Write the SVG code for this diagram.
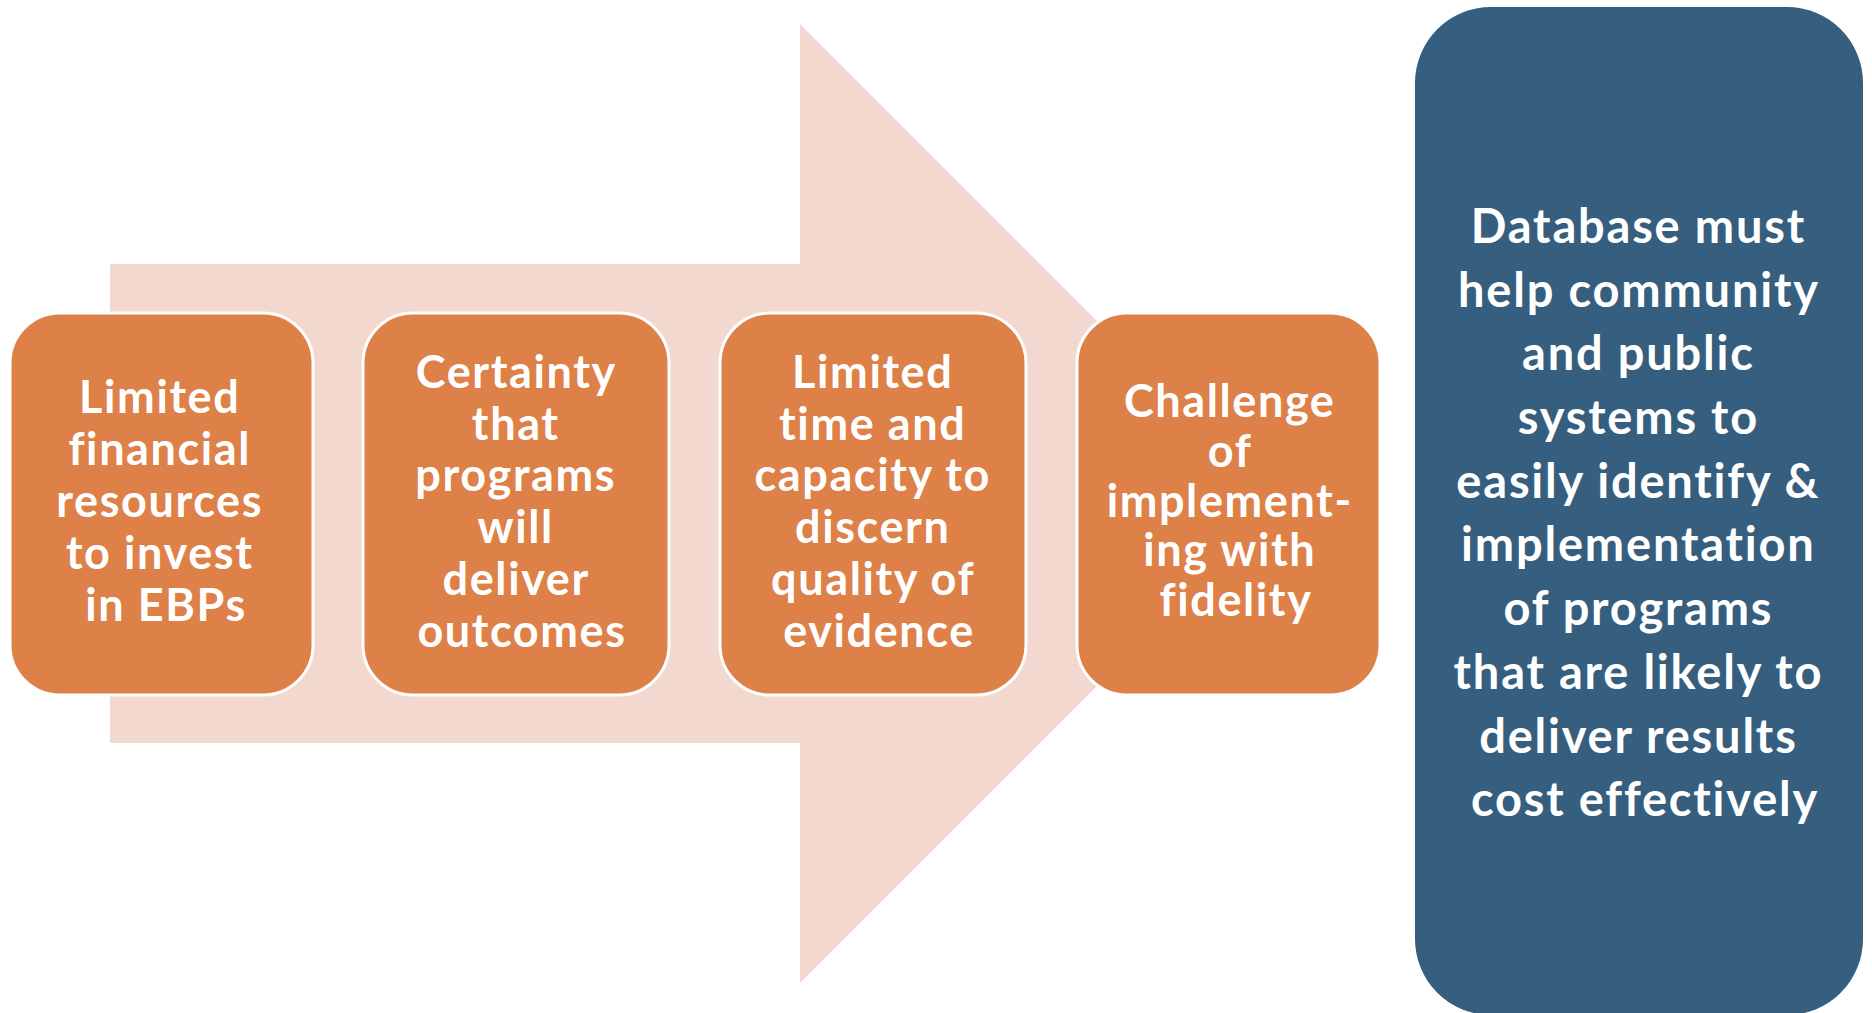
<svg xmlns="http://www.w3.org/2000/svg" width="1872" height="1013" viewBox="0 0 1872 1013">
<style>
.bg{fill:#ffffff}
.arrow{fill:#F2D8CF}
.box{fill:#DD8149;stroke:#ffffff;stroke-width:3}
.blue{fill:#365E7E}
.t{font-family:"Lato","Liberation Sans",sans-serif;font-weight:700;fill:#ffffff;text-anchor:middle;font-size:45px;letter-spacing:1.6px;font-variant-ligatures:none}
.tb{font-size:47px;letter-spacing:1.8px}
</style>
<rect class="bg" x="0" y="0" width="1872" height="1013"/>
<g id="connectors">
<polygon id="big-arrow" class="arrow" points="110,264 800,264 800,24 1279.5,503.5 800,983 800,743 110,743"/>
</g>
<g id="node1">
<rect class="box" x="10" y="313" width="303" height="382" rx="50" ry="50"/>
<text class="t">
<tspan x="166" y="413">Limited</tspan>
<tspan x="166" y="465">financial</tspan>
<tspan x="166" y="517">resources</tspan>
<tspan x="166" y="569">to invest</tspan>
<tspan x="166" y="621">in EBPs</tspan>
</text>
</g>
<g id="node2">
<rect class="box" x="363" y="313" width="306" height="382" rx="50" ry="50"/>
<text class="t">
<tspan x="522" y="388">Certainty</tspan>
<tspan x="522" y="440">that</tspan>
<tspan x="522" y="491">programs</tspan>
<tspan x="522" y="543">will</tspan>
<tspan x="522" y="595">deliver</tspan>
<tspan x="522" y="647">outcomes</tspan>
</text>
</g>
<g id="node3">
<rect class="box" x="720" y="313" width="306" height="382" rx="50" ry="50"/>
<text class="t">
<tspan x="879" y="388">Limited</tspan>
<tspan x="879" y="440">time and</tspan>
<tspan x="879" y="491">capacity to</tspan>
<tspan x="879" y="543">discern</tspan>
<tspan x="879" y="595">quality of</tspan>
<tspan x="879" y="647">evidence</tspan>
</text>
</g>
<g id="node4">
<rect class="box" x="1077" y="313" width="303" height="382" rx="50" ry="50"/>
<text class="t">
<tspan x="1236" y="417">Challenge</tspan>
<tspan x="1236" y="467">of</tspan>
<tspan x="1236" y="517">implement-</tspan>
<tspan x="1236" y="566">ing with</tspan>
<tspan x="1236" y="616">fidelity</tspan>
</text>
</g>
<g id="node5">
<rect class="blue" x="1415" y="7" width="448" height="1008" rx="76" ry="76"/>
<text class="t tb">
<tspan x="1645" y="243">Database must</tspan>
<tspan x="1645" y="307">help community</tspan>
<tspan x="1645" y="370">and public</tspan>
<tspan x="1645" y="434">systems to</tspan>
<tspan x="1645" y="498">easily identify &amp;</tspan>
<tspan x="1645" y="561">implementation</tspan>
<tspan x="1645" y="625">of programs</tspan>
<tspan x="1645" y="689">that are likely to</tspan>
<tspan x="1645" y="753">deliver results</tspan>
<tspan x="1645" y="816">cost effectively</tspan>
</text>
</g>
</svg>
